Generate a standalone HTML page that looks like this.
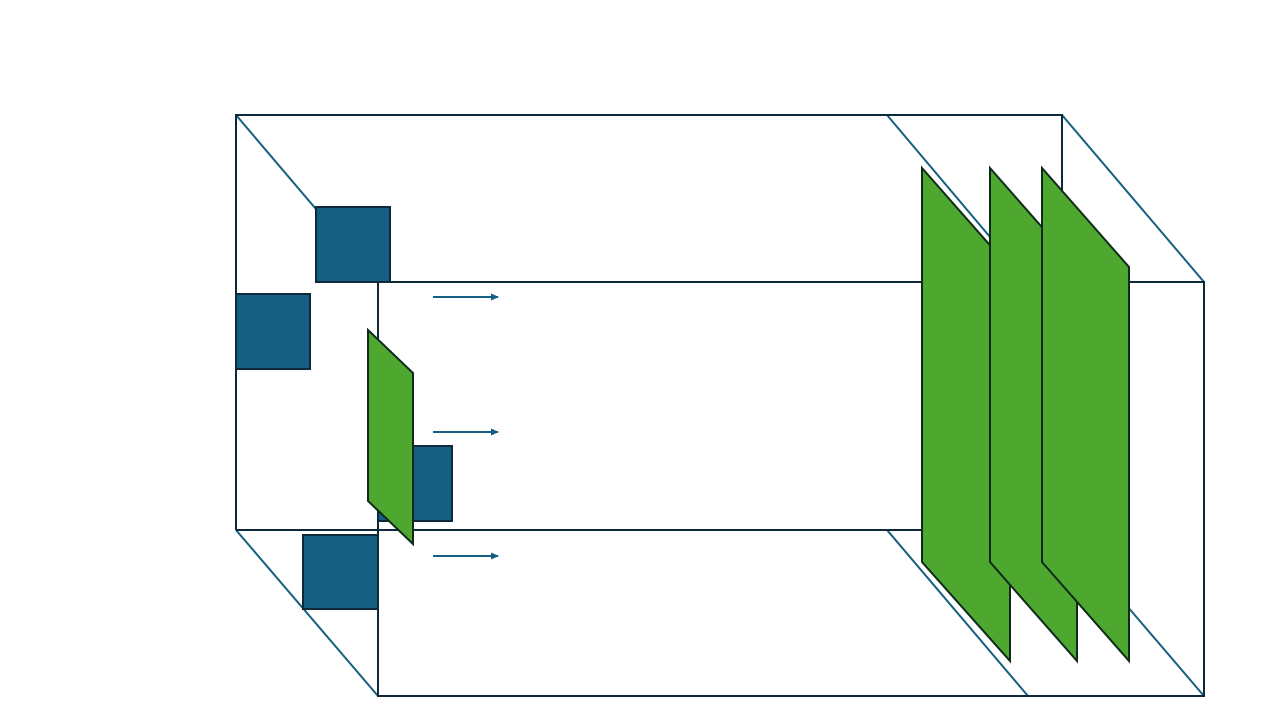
<!DOCTYPE html>
<html><head><meta charset="utf-8"><style>html,body{margin:0;padding:0;background:#fff;width:1280px;height:720px;overflow:hidden}</style></head>
<body>
<svg width="1280" height="720" viewBox="0 0 1280 720" xmlns="http://www.w3.org/2000/svg">
<defs><marker id="ah" markerWidth="8" markerHeight="8" refX="7" refY="4" orient="auto" markerUnits="userSpaceOnUse"><path d="M0,0.5 L8,4 L0,7.5 z" fill="#156082"/></marker></defs>
<g fill="none" stroke-width="2">
<!-- diagonals -->
<line x1="236" y1="115" x2="378" y2="282" stroke="#156082"/>
<line x1="236" y1="530" x2="378" y2="696" stroke="#156082"/>
<line x1="887" y1="115" x2="1028" y2="282" stroke="#156082"/>
<line x1="1062" y1="115" x2="1204" y2="282" stroke="#156082"/>
<line x1="887" y1="530" x2="1028" y2="696" stroke="#156082"/>
<line x1="1062" y1="530" x2="1204" y2="696" stroke="#156082"/>
<!-- back rect -->
<polyline points="236,530 236,115 1062,115 1062,300" stroke="#0e2a3a"/>
<line x1="236" y1="530" x2="1000" y2="530" stroke="#0e2a3a"/>
<!-- front rect -->
<rect x="378" y="282" width="826" height="414" stroke="#0e2a3a"/>
</g>
<!-- squares -->
<g fill="#156082" stroke="#0e2a3a" stroke-width="2">
<rect x="316" y="207" width="74" height="75"/>
<rect x="236" y="294" width="74" height="75"/>
<rect x="303" y="535" width="75" height="74"/>
<rect x="378" y="446" width="74" height="75"/>
</g>
<!-- arrows -->
<g stroke="#156082" stroke-width="2" marker-end="url(#ah)">
<line x1="433" y1="297" x2="498" y2="297"/>
<line x1="433" y1="432" x2="498" y2="432"/>
<line x1="433" y1="556" x2="498" y2="556"/>
</g>
<!-- green panels -->
<g fill="#4ea72e" stroke="#0e2a1a" stroke-width="2" stroke-linejoin="miter">
<polygon points="368,330 413,373 413,544 368,501"/>
<polygon points="922,168 1010,268 1010,661 922,562"/>
<polygon points="990,168 1077,267 1077,661 990,562"/>
<polygon points="1042,168 1129,267 1129,661 1042,562"/>
</g>
</svg>
</body></html>
